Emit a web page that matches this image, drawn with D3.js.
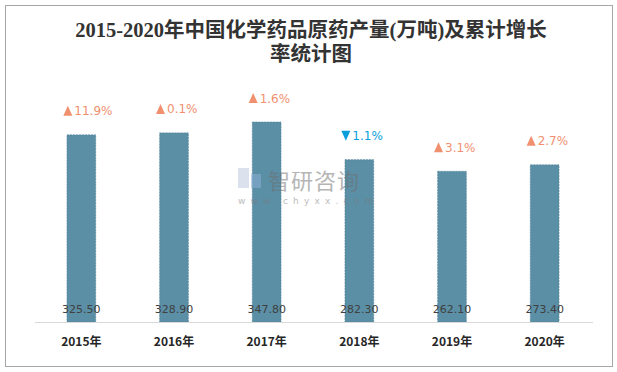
<!DOCTYPE html>
<html><head><meta charset="utf-8">
<script src="https://cdn.jsdelivr.net/npm/d3@7"></script>
<style>body{margin:0;background:#fff}svg{display:block}</style>
</head><body>
<script>
const years = ["2015年","2016年","2017年","2018年","2019年","2020年"];
const output = [325.5, 328.9, 347.8, 282.3, 262.1, 273.4];
const growth = [11.9, 0.1, 1.6, -1.1, 3.1, 2.7];
const titleLines = ["2015-2020年中国化学药品原药产量(万吨)及累计增长", "率统计图"];

const W = 617, H = 372;
const svg = d3.select("body").append("svg").attr("width", W).attr("height", H);
svg.append("rect").attr("x", 5.5).attr("y", 5.5).attr("width", 607).attr("height", 361)
  .attr("fill", "#fff").attr("stroke", "#a6a6a6").attr("stroke-width", 1);

svg.selectAll("text.title").data(titleLines).join("text")
  .attr("x", 311).attr("y", (d, i) => 37 + i * 24)
  .attr("text-anchor", "middle")
  .attr("font-family", "'Liberation Serif','Noto Sans CJK SC',serif")
  .attr("font-size", 20.5).attr("font-weight", "bold").attr("fill", "#333")
  .text(d => d);

const x = d3.scaleBand().domain(years).range([35, 591]).paddingInner(0.69).paddingOuter(0.345);
const y = d3.scaleLinear().domain([0, 400]).range([322, 92]);

svg.selectAll("rect.bar").data(output).join("rect")
  .attr("class", "bar")
  .attr("x", (d, i) => x(years[i])).attr("width", x.bandwidth())
  .attr("y", d => y(d)).attr("height", d => y(0) - y(d))
  .attr("fill", "#5b8fa6").attr("stroke", "#4d7f95").attr("stroke-width", 0.6)
  .attr("stroke-dasharray", "2,1");

// watermark (drawn above bars)
const wm = svg.append("g").attr("opacity", 0.5);
wm.append("rect").attr("x", 238).attr("y", 168).attr("width", 11).attr("height", 20).attr("fill", "#b8c7dd");
wm.append("rect").attr("x", 251).attr("y", 174).attr("width", 10).attr("height", 14).attr("fill", "#8fb1da");
wm.append("text").attr("x", 268).attr("y", 189).attr("font-family", "'Noto Sans CJK SC'")
  .attr("font-size", 22).attr("fill", "#6e6e6e").attr("letter-spacing", 1).text("智研咨询");
wm.append("text").attr("x", 238).attr("y", 204).attr("font-family", "'DejaVu Sans'")
  .attr("font-size", 9).attr("fill", "#7a7a7a").attr("letter-spacing", 5.2).text("www.chyxx.com");

// baseline
svg.append("line").attr("x1", 35).attr("x2", 593).attr("y1", 322.5).attr("y2", 322.5)
  .attr("stroke", "#d9d9d9").attr("stroke-width", 1);

// value labels
svg.selectAll("text.val").data(output).join("text")
  .attr("x", (d, i) => x(years[i]) + x.bandwidth() / 2).attr("y", 313)
  .attr("text-anchor", "middle").attr("font-family", "'DejaVu Sans'")
  .attr("font-size", 11).attr("fill", "#404040")
  .text(d => d.toFixed(2));

// x axis labels
const xa = svg.append("g").attr("transform", "translate(0,322)")
  .call(d3.axisBottom(x).tickSize(0).tickPadding(15));
xa.select(".domain").remove();
xa.selectAll("text").attr("font-family", "'Noto Sans CJK SC'").attr("font-size", 12)
  .attr("font-weight", "bold").attr("fill", "#262626");

// growth labels
const gl = svg.selectAll("g.gl").data(growth).join("g")
  .attr("transform", (d, i) => `translate(${x(years[i]) + x.bandwidth() / 2},${y(output[i]) - 24})`);
gl.append("path")
  .attr("d", d => d >= 0 ? "M-18,5 L-13.5,-5 L-9,5 Z" : "M-18,-5 L-9,-5 L-13.5,5 Z")
  .attr("fill", d => d >= 0 ? "#f0906f" : "#0a9fdc");
gl.append("text").attr("x", -7).attr("y", 4.5)
  .attr("font-family", "'DejaVu Sans'").attr("font-size", 12)
  .attr("fill", d => d >= 0 ? "#f0906f" : "#0a9fdc")
  .text(d => Math.abs(d).toFixed(1) + "%");
</script>
</body></html>
